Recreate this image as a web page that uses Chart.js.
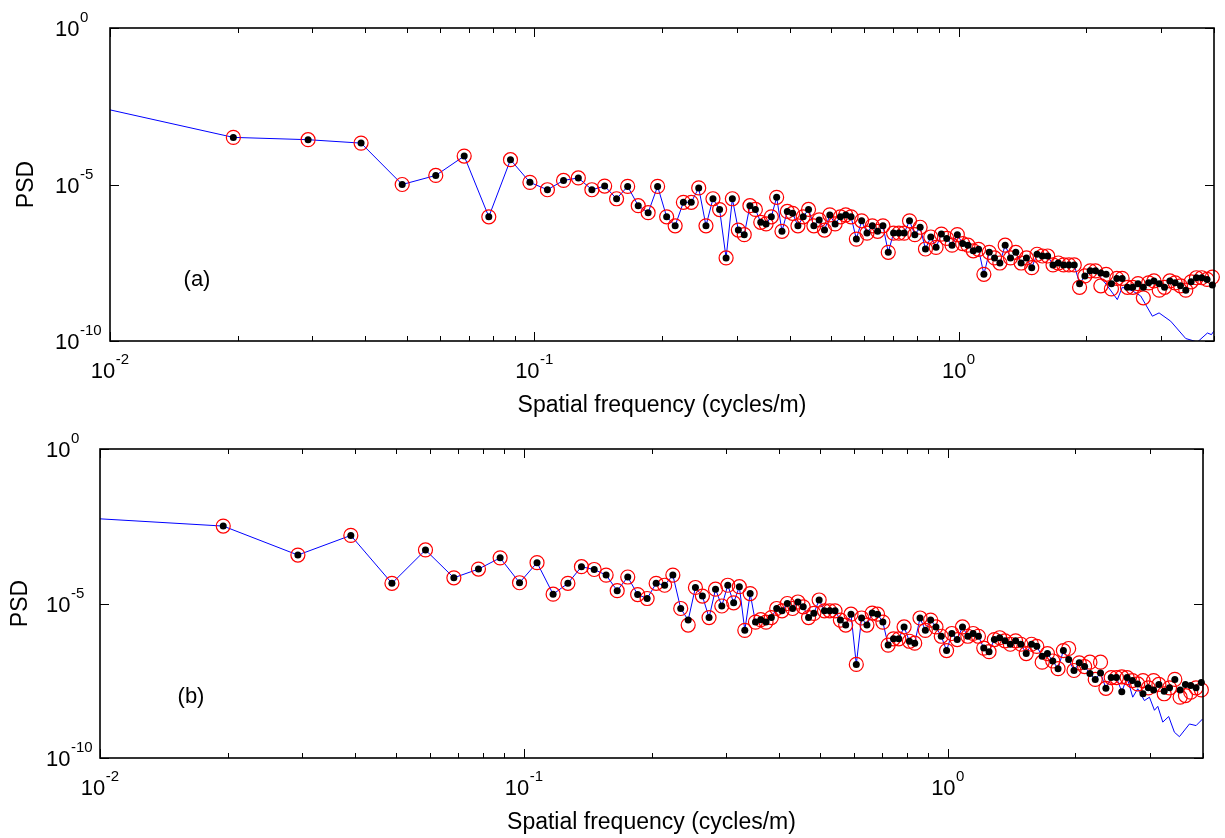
<!DOCTYPE html>
<html>
<head>
<meta charset="utf-8">
<title>PSD</title>
<script src="https://cdn.jsdelivr.net/npm/chart.js@4.4.1/dist/chart.umd.min.js"></script>
<style>
  html, body { margin: 0; padding: 0; background: #fff; }
  #wrap { position: relative; width: 1225px; height: 838px; }
  .panel { position: absolute; left: 0; width: 1225px; height: 419px; }
</style>
</head>
<body>
<div id="wrap">
  <div class="panel" style="top:0"><canvas id="chart-a" width="1225" height="419"></canvas></div>
  <div class="panel" style="top:419px"><canvas id="chart-b" width="1225" height="419"></canvas></div>
</div>
<script>
// spatial frequencies of the marker points (cycles/m), shared by both panels
const markerFreq = [
  0.01953, 0.0293, 0.03906, 0.04883, 0.05859, 0.06836, 0.07813, 0.08789, 0.09766, 0.1074,
  0.1172, 0.127, 0.1367, 0.1465, 0.1563, 0.166, 0.1758, 0.1855, 0.1953, 0.2051,
  0.2148, 0.2246, 0.2344, 0.2441, 0.2539, 0.2637, 0.2734, 0.2832, 0.293, 0.3027,
  0.3125, 0.3223, 0.332, 0.3418,
  0.3518, 0.362, 0.3726, 0.3835, 0.3948, 0.4063, 0.4182, 0.4304, 0.443, 0.456,
  0.4694, 0.4831, 0.4972, 0.5117, 0.5267, 0.5421, 0.558, 0.5743, 0.5911, 0.6084,
  0.6262, 0.6445, 0.6634, 0.6828, 0.7028, 0.7233, 0.7445, 0.7663, 0.7887, 0.8118,
  0.8356, 0.86, 0.8852, 0.9111, 0.9378, 0.9652, 0.9934, 1.0224, 1.0524, 1.0832,
  1.1149, 1.1474, 1.1812, 1.2157, 1.2512, 1.2878, 1.3256, 1.3643, 1.4042, 1.4454,
  1.4876, 1.5311, 1.5758, 1.6218, 1.6696, 1.7182, 1.7685, 1.8201, 1.8737, 1.9284,
  1.9847, 2.0427, 2.1028, 2.1643, 2.2275, 2.2925, 2.3604, 2.4293, 2.5003, 2.5733,
  2.6485, 2.7258, 2.8054, 2.8873, 2.9717, 3.0585, 3.1478, 3.2397, 3.335, 3.4324,
  3.5326, 3.6358, 3.7424, 3.8518, 3.9643
];
const firstLineFreq = 0.00977;

// panel (a)
const blackA = [
  3.2e-4, 2.7e-4, 2.1e-4, 1.0e-5, 1.95e-5, 8.1e-5, 9.3e-7, 6.2e-5, 1.17e-5, 6.8e-6,
  1.35e-5, 1.62e-5, 6.8e-6, 8.9e-6, 3.5e-6, 8.7e-6, 2.1e-6, 1.26e-6, 8.7e-6, 9.3e-7,
  4.8e-7, 2.7e-6, 2.7e-6, 7.8e-6, 4.8e-7, 3.5e-6, 1.58e-6, 4.5e-8, 3.5e-6, 3.5e-7,
  2.5e-7, 2.1e-6, 1.6e-6, 6.2e-7,
  5.5e-7, 9.3e-7, 3.9e-6, 3.2e-7, 1.38e-6, 1.2e-6, 4.8e-7, 9.3e-7, 1.6e-6, 4.8e-7,
  7.4e-7, 3.5e-7, 1.07e-6, 5.5e-7, 9.3e-7, 1.07e-6, 9.3e-7, 1.8e-7, 6.9e-7, 2.8e-7,
  4.8e-7, 3.2e-7, 4.8e-7, 6.8e-8, 2.8e-7, 2.8e-7, 2.8e-7, 6.9e-7, 2.5e-7, 4.3e-7,
  8.7e-8, 2.1e-7, 9.8e-8, 2.6e-7, 1.9e-7, 1.15e-7, 2.5e-7, 1.3e-7, 1.15e-7, 7.6e-8,
  8.5e-8, 1.35e-8, 6.8e-8, 4.5e-8, 3.1e-8, 1.15e-7, 4.5e-8, 6.8e-8, 3.1e-8, 4.5e-8,
  2.2e-8, 5.9e-8, 5.2e-8, 5.2e-8, 2.7e-8, 3.1e-8, 2.7e-8, 2.7e-8, 2.7e-8, 6.8e-9,
  1.2e-8, 1.74e-8, 1.74e-8, 1.5e-8, 1.35e-8, 6.8e-9, 1.0e-8, 1.0e-8, 5.2e-9, 5.2e-9,
  6.8e-9, 5.2e-9, 7.2e-9, 8.3e-9, 6.8e-9, 5.2e-9, 8.3e-9, 7.2e-9, 5.8e-9, 4.2e-9,
  7.8e-9, 1.05e-8, 1.05e-8, 9.3e-9, 6.2e-9
];
const redA = [
  3.2e-4, 2.7e-4, 2.1e-4, 1.0e-5, 1.95e-5, 8.1e-5, 9.3e-7, 6.2e-5, 1.17e-5, 6.8e-6,
  1.35e-5, 1.62e-5, 6.8e-6, 8.9e-6, 3.5e-6, 8.7e-6, 2.1e-6, 1.26e-6, 8.7e-6, 9.3e-7,
  4.8e-7, 2.7e-6, 2.7e-6, 7.8e-6, 4.8e-7, 3.5e-6, 1.58e-6, 4.5e-8, 3.5e-6, 3.5e-7,
  2.5e-7, 2.1e-6, 1.6e-6, 6.2e-7,
  5.5e-7, 9.3e-7, 3.9e-6, 3.2e-7, 1.38e-6, 1.2e-6, 4.8e-7, 9.3e-7, 1.6e-6, 4.8e-7,
  7.4e-7, 3.5e-7, 1.07e-6, 5.5e-7, 9.3e-7, 1.07e-6, 9.3e-7, 1.8e-7, 6.9e-7, 2.8e-7,
  4.8e-7, 3.2e-7, 4.8e-7, 6.8e-8, 2.8e-7, 2.8e-7, 2.8e-7, 6.9e-7, 2.5e-7, 4.3e-7,
  8.7e-8, 2.1e-7, 9.8e-8, 2.6e-7, 1.9e-7, 1.15e-7, 2.5e-7, 1.3e-7, 1.15e-7, 7.6e-8,
  8.5e-8, 1.35e-8, 6.8e-8, 4.5e-8, 3.1e-8, 1.15e-7, 4.5e-8, 6.8e-8, 3.1e-8, 4.5e-8,
  2.2e-8, 5.9e-8, 5.2e-8, 5.2e-8, 2.7e-8, 3.1e-8, 2.7e-8, 2.7e-8, 2.7e-8, 5.2e-9,
  1.2e-8, 1.74e-8, 1.74e-8, 5.8e-9, 1.35e-8, 4.6e-9, 1.0e-8, 1.0e-8, 5.2e-9, 5.2e-9,
  6.8e-9, 2.4e-9, 7.2e-9, 8.3e-9, 4.2e-9, 5.2e-9, 8.3e-9, 7.2e-9, 5.8e-9, 4.2e-9,
  7.8e-9, 1.05e-8, 1.05e-8, 9.3e-9, 1.1e-8
];
const lineStartA = 2.6e-3;
const lineTailFreqA = [2.242, 2.367, 2.432, 2.569, 2.687, 2.863, 2.969, 3.162, 3.431, 3.656, 3.86, 3.945, 4.0];
const lineTailA = [5.8e-9, 2.1e-9, 5.2e-9, 4.0e-9, 2.75e-9, 6.2e-10, 7.9e-10, 4.3e-10, 1.2e-10, 9.3e-11, 1.8e-10, 1.6e-10, 2.1e-10];

// panel (b)
const blackB = [
  3.2e-3, 3.7e-4, 1.6e-3, 4.5e-5, 5.4e-4, 6.8e-5, 1.3e-4, 3.0e-4, 4.7e-5, 2.1e-4,
  2.0e-5, 4.5e-5, 1.55e-4, 1.26e-4, 8.3e-5, 2.6e-5, 7.2e-5, 1.95e-5, 1.45e-5, 4.5e-5,
  3.9e-5, 8.3e-5, 6.9e-6, 2.9e-6, 3.3e-5, 1.74e-5, 3.5e-6, 2.9e-5, 8.3e-6, 3.9e-5,
  1.05e-5, 3.5e-5, 1.35e-6, 2.1e-5,
  2.5e-6, 3.0e-6, 2.5e-6, 3.5e-6, 6.9e-6, 5.8e-6, 1.0e-5, 6.9e-6, 1.12e-5, 7.8e-6,
  3.5e-6, 4.8e-6, 1.3e-5, 5.8e-6, 5.8e-6, 5.8e-6, 2.9e-6, 2.0e-6, 4.5e-6, 1.07e-7,
  3.4e-6, 2.0e-6, 4.9e-6, 4.5e-6, 2.5e-6, 4.5e-7, 7.2e-7, 7.2e-7, 1.74e-6, 6.0e-7,
  5.2e-7, 3.4e-6, 1.35e-6, 2.9e-6, 1.74e-6, 8.7e-7, 3.0e-7, 1.07e-6, 6.8e-7, 1.74e-6,
  8.7e-7, 1.07e-6, 8.7e-7, 3.6e-7, 2.75e-7, 6.8e-7, 7.8e-7, 6.2e-7, 4.8e-7, 6.2e-7,
  4.8e-7, 2.4e-7, 4.8e-7, 4.1e-7, 1.95e-7, 2.4e-7, 1.38e-7, 7.8e-8, 3.0e-7, 1.55e-7,
  6.8e-8, 1.2e-7, 9.1e-8, 5.4e-8, 3.5e-8, 5.6e-8, 1.8e-8, 4.0e-8, 4.0e-8, 1.4e-8,
  4.0e-8, 3.2e-8, 2.5e-8, 1.2e-8, 1.86e-8, 1.6e-8, 2.4e-8, 1.45e-8, 1.86e-8, 3.5e-8,
  1.6e-8, 2.4e-8, 2.2e-8, 1.86e-8, 2.8e-8
];
const redB = [
  3.2e-3, 3.7e-4, 1.6e-3, 4.5e-5, 5.4e-4, 6.8e-5, 1.3e-4, 3.0e-4, 4.7e-5, 2.1e-4,
  2.0e-5, 4.5e-5, 1.55e-4, 1.26e-4, 8.3e-5, 2.6e-5, 7.2e-5, 1.95e-5, 1.45e-5, 4.5e-5,
  3.9e-5, 8.3e-5, 6.9e-6, 2.0e-6, 3.3e-5, 1.74e-5, 3.5e-6, 2.9e-5, 8.3e-6, 3.9e-5,
  1.05e-5, 3.5e-5, 1.35e-6, 2.1e-5,
  2.5e-6, 3.0e-6, 2.5e-6, 3.5e-6, 6.9e-6, 5.8e-6, 1.0e-5, 6.9e-6, 1.12e-5, 7.8e-6,
  3.5e-6, 4.8e-6, 1.3e-5, 5.8e-6, 5.8e-6, 5.8e-6, 2.9e-6, 2.0e-6, 4.5e-6, 1.07e-7,
  3.4e-6, 2.0e-6, 4.9e-6, 4.5e-6, 2.5e-6, 4.5e-7, 7.2e-7, 7.2e-7, 1.74e-6, 6.0e-7,
  5.2e-7, 3.4e-6, 1.35e-6, 2.9e-6, 1.74e-6, 8.7e-7, 3.0e-7, 1.07e-6, 6.8e-7, 1.74e-6,
  8.7e-7, 1.07e-6, 8.7e-7, 3.6e-7, 2.75e-7, 6.8e-7, 7.8e-7, 6.2e-7, 4.8e-7, 6.2e-7,
  4.8e-7, 2.4e-7, 4.8e-7, 4.1e-7, 1.26e-7, 2.4e-7, 1.38e-7, 7.8e-8, 3.0e-7, 3.5e-7,
  6.8e-8, 1.2e-7, 9.1e-8, 1.26e-7, 3.5e-8, 1.26e-7, 1.8e-8, 4.0e-8, 4.0e-8, 4.2e-8,
  4.0e-8, 3.2e-8, 2.5e-8, 3.2e-8, 1.86e-8, 3.2e-8, 2.4e-8, 1.2e-8, 1.86e-8, 3.5e-8,
  9.3e-9, 1.05e-8, 1.35e-8, 1.86e-8, 1.6e-8
];
const lineStartB = 5.6e-3;
const lineTailFreqB = [2.731, 2.806, 2.91, 2.99, 3.073, 3.129, 3.215, 3.32, 3.425, 3.519, 3.716, 3.853, 3.995];
const lineTailB = [9.3e-9, 1.74e-8, 7.2e-9, 9.3e-9, 3.5e-9, 4.7e-9, 1.45e-9, 2.2e-9, 6.8e-10, 4.9e-10, 1.26e-9, 1.12e-9, 1.86e-9];

// axes: tick positions and the exponents printed as 10^n
const xAxisTicks = [0.01, 0.02, 0.03, 0.04, 0.05, 0.06, 0.07, 0.08, 0.09,
  0.1, 0.2, 0.3, 0.4, 0.5, 0.6, 0.7, 0.8, 0.9, 1, 2, 3, 4];
const xTickValues = [0.01, 0.1, 1];
const xTickExponents = ['-2', '-1', '0'];
const yTickValues = [1e-10, 1e-5, 1];
const yTickExponents = ['-10', '-5', '0'];

const FONT = '"Liberation Sans", Arial, Helvetica, sans-serif';
Chart.defaults.font.family = FONT;
Chart.defaults.color = '#000';

const toPoints = (xs, ys) => xs.map((x, i) => ({ x: x, y: ys[i] }));

// "10" with a raised exponent, MATLAB style; returns nothing, draws at baseline y
function drawPower(ctx, exp, left, baseline) {
  ctx.font = '22px ' + FONT;
  ctx.fillText('10', left, baseline);
  const wb = ctx.measureText('10').width;
  ctx.font = '15px ' + FONT;
  ctx.fillText(exp, left + wb + 0.5, baseline - 14);
}
function powerWidth(ctx, exp) {
  ctx.font = '22px ' + FONT;
  const wb = ctx.measureText('10').width;
  ctx.font = '15px ' + FONT;
  return wb + 0.5 + ctx.measureText(exp).width;
}

// frame, inward tick marks, tick labels, y title and panel letter
const panelDecor = {
  id: 'panelDecor',
  afterDatasetsDraw(chart, args, opts) {
    const { ctx, chartArea: a } = chart;
    const xs = chart.scales.x;
    const ys = chart.scales.y;
    ctx.save();
    ctx.strokeStyle = '#000';
    ctx.lineWidth = 1;
    ctx.beginPath();
    xAxisTicks.forEach((v) => {
      const px = Math.round(xs.getPixelForValue(v)) + 0.5;
      const len = xTickValues.includes(v) ? 9 : 5;
      ctx.moveTo(px, a.bottom);
      ctx.lineTo(px, a.bottom - len);
      ctx.moveTo(px, a.top);
      ctx.lineTo(px, a.top + len);
    });
    yTickValues.forEach((v) => {
      const py = Math.round(ys.getPixelForValue(v)) + 0.5;
      ctx.moveTo(a.left, py);
      ctx.lineTo(a.left + 9, py);
      ctx.moveTo(a.right, py);
      ctx.lineTo(a.right - 9, py);
    });
    ctx.stroke();
    ctx.lineWidth = 1.6;
    ctx.strokeRect(a.left, a.top, a.right - a.left, a.bottom - a.top);

    ctx.fillStyle = '#000';
    ctx.textAlign = 'left';
    ctx.textBaseline = 'alphabetic';
    xTickValues.forEach((v, i) => {
      const px = xs.getPixelForValue(v);
      const w = powerWidth(ctx, xTickExponents[i]);
      drawPower(ctx, xTickExponents[i], px - w / 2, a.bottom + 37);
    });
    yTickValues.forEach((v, i) => {
      const py = ys.getPixelForValue(v);
      drawPower(ctx, yTickExponents[i], opts.yLabelX, py + 8);
    });

    ctx.textAlign = 'center';
    ctx.textBaseline = 'middle';
    ctx.font = '23px ' + FONT;
    ctx.save();
    ctx.translate(opts.psdX, (a.top + a.bottom) / 2);
    ctx.rotate(-Math.PI / 2);
    ctx.fillText('PSD', 0, 0);
    ctx.restore();
    ctx.font = '22px ' + FONT;
    ctx.fillText(opts.label, opts.labelX, opts.labelY);
    ctx.restore();
  }
};

function makePanel(id, black, red, lineStart, lineEnd, tailFreq, tailVals, box) {
  const linePoints = [{ x: firstLineFreq, y: lineStart }]
    .concat(toPoints(markerFreq.slice(0, lineEnd), black.slice(0, lineEnd)))
    .concat(toPoints(tailFreq, tailVals));

  return new Chart(document.getElementById(id), {
    type: 'scatter',
    data: {
      datasets: [
        {
          label: 'black',
          data: toPoints(markerFreq, black),
          pointRadius: 3.5,
          pointBackgroundColor: '#000',
          pointBorderColor: '#000',
          pointBorderWidth: 0,
          clip: false,
          order: 0
        },
        {
          label: 'red',
          data: toPoints(markerFreq, red),
          pointRadius: 7,
          pointBackgroundColor: 'rgba(0,0,0,0)',
          pointBorderColor: '#ff0000',
          pointBorderWidth: 1.2,
          clip: false,
          order: 1
        },
        {
          label: 'line',
          data: linePoints,
          showLine: true,
          borderColor: '#0000ff',
          borderWidth: 1,
          pointRadius: 0,
          tension: 0,
          order: 2
        }
      ]
    },
    options: {
      responsive: false,
      animation: false,
      events: [],
      layout: { padding: box.padding },
      scales: {
        x: {
          type: 'logarithmic',
          min: 0.01,
          max: 4,
          grid: { display: false, drawTicks: false },
          border: { display: false },
          afterBuildTicks: (s) => { s.ticks = xAxisTicks.map((v) => ({ value: v })); },
          afterFit: (s) => { s.height = box.xHeight; },
          ticks: { display: false },
          title: {
            display: true,
            text: 'Spatial frequency (cycles/m)',
            font: { size: 23 },
            padding: { top: 0, bottom: 0 }
          }
        },
        y: {
          type: 'logarithmic',
          min: 1e-10,
          max: 1,
          grid: { display: false, drawTicks: false },
          border: { display: false },
          afterBuildTicks: (s) => { s.ticks = yTickValues.map((v) => ({ value: v })); },
          afterFit: (s) => { s.width = box.yWidth; },
          ticks: { display: false }
        }
      },
      plugins: {
        legend: { display: false },
        tooltip: { enabled: false },
        panelDecor: box.decor
      }
    },
    plugins: [panelDecor]
  });
}

makePanel('chart-a', blackA, redA, lineStartA, 97, lineTailFreqA, lineTailA, {
  padding: { left: 55, top: 28, right: 11, bottom: 0 },
  yWidth: 55,
  xHeight: 78,
  decor: { psdX: 27, yLabelX: 55, label: '(a)', labelX: 197, labelY: 280 }
});

makePanel('chart-b', blackB, redB, lineStartB, 105, lineTailFreqB, lineTailB, {
  padding: { left: 47, top: 30, right: 22, bottom: 2 },
  yWidth: 53,
  xHeight: 78,
  decor: { psdX: 21, yLabelX: 46, label: '(b)', labelX: 191, labelY: 278 }
});
</script>
</body>
</html>
